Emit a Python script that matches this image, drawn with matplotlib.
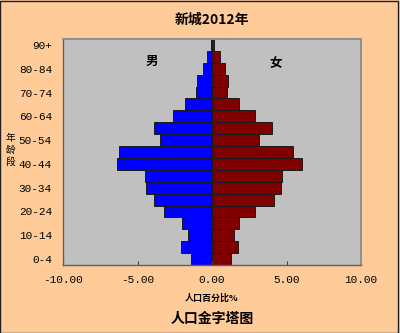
import matplotlib
matplotlib.use("Agg")
import matplotlib.pyplot as plt
import numpy as np

plt.rcParams['font.family'] = ['Noto Sans CJK SC', 'DejaVu Sans']

age_groups = ["0-4", "5-9", "10-14", "15-19", "20-24", "25-29", "30-34", "35-39",
              "40-44", "45-49", "50-54", "55-59", "60-64", "65-69", "70-74",
              "75-79", "80-84", "85-89", "90+"]
male_pct = [1.41, 2.08, 1.63, 2.01, 3.24, 3.87, 4.41, 4.50, 6.38, 6.24,
            3.47, 3.87, 2.62, 1.81, 1.10, 1.00, 0.58, 0.31, 0.10]
female_pct = [1.29, 1.72, 1.47, 1.79, 2.88, 4.19, 4.66, 4.69, 6.07, 5.44,
              3.13, 4.06, 2.86, 1.79, 0.98, 1.05, 0.85, 0.51, 0.12]
x_ticks = [-10, -5, 0, 5, 10]

bg = "#FFCC99"
fig = plt.figure(figsize=(4.0, 3.33), dpi=100, facecolor=bg)
ax = fig.add_axes([0.1575, 0.2042, 0.745, 0.6787])
ax.set_facecolor("#C0C0C0")

y = np.arange(len(age_groups))
ax.barh(y, [-v for v in male_pct], height=1.0, color="#0000FF",
        edgecolor="#1a1a1a", linewidth=0.7)
ax.barh(y, female_pct, height=1.0, color="#800000",
        edgecolor="#1a1a1a", linewidth=0.7)

ax.set_xlim(-10, 10)
ax.set_ylim(-0.5, len(age_groups) - 0.5)
ax.set_xticks(x_ticks)
ax.set_xticklabels([f"{t:.2f}" for t in x_ticks], family=['Liberation Mono', 'DejaVu Sans'],
                   fontsize=8)
ax.set_yticks(y[::2])
ax.set_yticklabels(age_groups[::2], family=['Liberation Mono', 'DejaVu Sans'], fontsize=8)
ax.tick_params(axis='x', direction='in', length=3, color="#404040", pad=7)
ax.tick_params(axis='y', length=0, pad=8)

for side in ("left", "bottom"):
    ax.spines[side].set_color("#606060")
    ax.spines[side].set_linewidth(1.0)
for side in ("top", "right"):
    ax.spines[side].set_color("#909090")
    ax.spines[side].set_linewidth(1.5)

ax.text(-4.0, 16.6, "男", ha="center", va="center", fontsize=9, fontweight="bold")
ax.text(4.3, 16.4, "女", ha="center", va="center", fontsize=9, fontweight="bold")

fig.text(0.53, 0.94, "新城2012年", ha="center", va="center", fontsize=10, fontweight="bold")
fig.text(0.53, 0.105, "人口百分比%", ha="center", va="center", fontsize=6.5, fontweight="bold")
fig.text(0.53, 0.042, "人口金字塔图", ha="center", va="center", fontsize=10, fontweight="bold")
fig.text(0.027, 0.55, "年\n龄\n段", ha="center", va="center", fontsize=7, linespacing=1.2)

border = plt.Rectangle((0.001, 0.001), 0.995, 0.997, transform=fig.transFigure,
                       fill=False, edgecolor="#202020", linewidth=1.0)
fig.patches.append(border)

fig.savefig("out.png", dpi=100, facecolor=bg)
